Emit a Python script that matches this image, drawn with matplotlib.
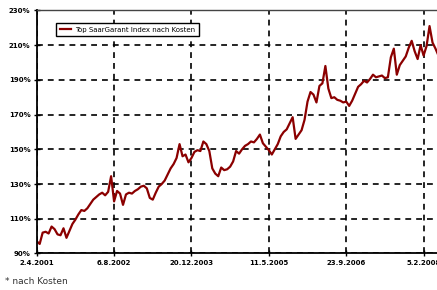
import numpy as np
import matplotlib
matplotlib.use('Agg')
import matplotlib.pyplot as plt

# Indexstand in Prozent (ca. alle 13 Handelstage)
werte = [97, 95.5, 102, 102.5, 101.5, 105.5, 104, 101, 100.5, 104.5,
         99, 103, 107, 109.5, 112.5, 115, 114.5, 116, 118.5, 121,
         122.5, 124, 125, 123.5, 125.5, 134.5, 120, 126, 124.5, 118,
         124, 125, 124.5, 126, 127, 128.5, 129, 127.5, 122, 121,
         125, 128.5, 130, 132, 135.5, 139, 141.5, 145, 153, 146,
         147, 142.5, 145, 148.5, 149.5, 149, 154.5, 153, 149, 139,
         136, 134.5, 139.5, 138, 138.5, 140, 143, 149, 147.5, 150,
         152, 153, 154.5, 154, 156, 158.5, 153.5, 151.5, 149.5, 147,
         150, 153, 157.5, 160, 161.5, 165, 168.5, 156, 158.5, 161,
         167, 177.5, 183, 181.5, 177, 186.5, 188, 198, 185, 179.5,
         180, 178.5, 178, 177, 177.5, 175, 178, 182, 186, 187.5,
         189.5, 188.5, 190.5, 193, 191.5, 192, 192.5, 191, 191.5, 203,
         208, 193, 198.5, 201, 203.5, 208.5, 212.5, 206.5, 202, 210,
         204, 209.5, 221, 211.5, 208, 204]

datum_labels = ['2.4.2001', '6.8.2002', '20.12.2003', '11.5.2005', '23.9.2006', '5.2.2008']
datum_pos = [0, 26, 52, 78, 104, 130]
y_ticks = [90, 110, 130, 150, 170, 190, 210, 230]

fig = plt.figure(figsize=(4.37, 2.90), dpi=100)
ax = fig.add_axes([0.084, 0.126, 0.918, 0.838])

x = np.arange(len(werte))
ax.plot(x, werte, color='#8b0000', lw=1.6, label='Top SaarGarant Index nach Kosten')

ax.set_xlim(0, 134.8)
ax.set_ylim(90, 230)
ax.set_xticks(datum_pos)
ax.set_xticklabels(datum_labels)
ax.set_yticks(y_ticks)
ax.set_yticklabels([f'{v}%' for v in y_ticks])

ax.grid(True, color='black', linestyle=(0, (3.5, 3)), lw=1.2)
ax.tick_params(direction='inout', length=5, width=1, labelsize=5, pad=2)
for lab in ax.get_xticklabels() + ax.get_yticklabels():
    lab.set_fontweight('bold')
for s in ['left', 'bottom']:
    ax.spines[s].set_linewidth(1.3)
ax.spines['top'].set_linewidth(1.0)
ax.spines['top'].set_color('#444444')
ax.spines['right'].set_visible(False)

leg = ax.legend(loc='upper left', bbox_to_anchor=(0.04, 0.962), fontsize=5,
                frameon=True, fancybox=False, edgecolor='black', framealpha=1,
                handlelength=1.6, borderpad=0.5, handletextpad=0.6)
leg.get_frame().set_linewidth(1.0)

fig.text(0.012, 0.02, '* nach Kosten', fontsize=6.5, color='#333333')

fig.savefig('out.png', dpi=100)
